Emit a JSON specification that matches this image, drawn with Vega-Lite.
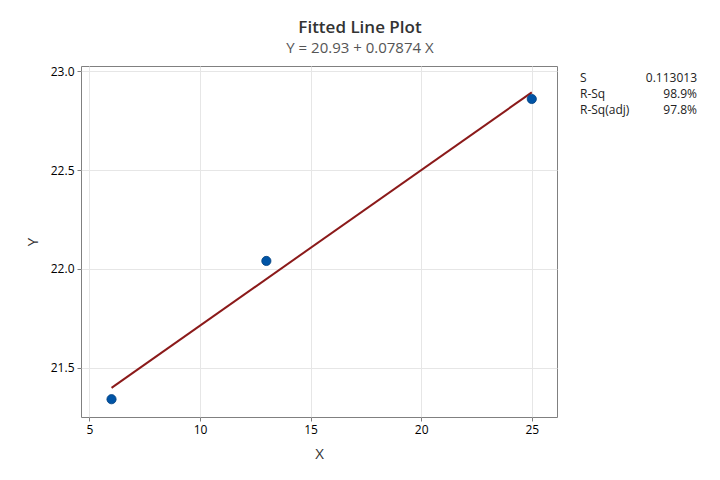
{
  "$schema": "https://vega.github.io/schema/vega-lite/v6.json",
  "autosize": "none",
  "padding": {"left": 81, "top": 66, "right": 163, "bottom": 63},
  "width": 476,
  "height": 351,
  "background": "white",
  "title": {
    "text": "Fitted Line Plot",
    "subtitle": "Y = 20.93 + 0.07874 X",
    "font": "Open Sans",
    "fontSize": 17,
    "fontWeight": 600,
    "color": "#333333",
    "subtitleFont": "Open Sans",
    "subtitleFontSize": 15,
    "subtitleColor": "#555555",
    "subtitlePadding": 4,
    "anchor": "middle",
    "dx": 41,
    "offset": 8
  },
  "config": {
    "view": {"stroke": "#808080", "strokeWidth": 1},
    "axis": {
      "labelFont": "Open Sans",
      "titleFont": "Open Sans",
      "labelFontSize": 12,
      "labelColor": "#000000",
      "titleFontSize": 15,
      "titleFontWeight": "normal",
      "titleColor": "#333333",
      "gridColor": "#e6e6e6",
      "domain": false,
      "tickColor": "#808080",
      "tickSize": 4
    }
  },
  "datasets": {
    "points": [
      {"X": 6, "Y": 21.34},
      {"X": 13, "Y": 22.04},
      {"X": 25, "Y": 22.86}
    ],
    "stats": [
      {"stat": "S", "value": "0.113013", "order": 1},
      {"stat": "R-Sq", "value": "98.9%", "order": 2},
      {"stat": "R-Sq(adj)", "value": "97.8%", "order": 3}
    ]
  },
  "layer": [
    {
      "data": {"name": "points"},
      "encoding": {
        "x": {
          "field": "X",
          "type": "quantitative",
          "scale": {"domain": [4.62, 26.14], "nice": false, "zero": false},
          "axis": {"values": [5, 10, 15, 20, 25], "title": "X", "titlePadding": 11, "labelPadding": 3}
        },
        "y": {
          "field": "Y",
          "type": "quantitative",
          "scale": {"domain": [21.25, 23.027], "nice": false, "zero": false},
          "axis": {"values": [21.5, 22.0, 22.5, 23.0], "format": ".1f", "title": "Y", "titlePadding": 10, "labelPadding": 3}
        }
      },
      "layer": [
        {
          "transform": [{"regression": "Y", "on": "X", "method": "linear"}],
          "mark": {"type": "line", "color": "#8b1a1a", "strokeWidth": 2}
        },
        {
          "mark": {"type": "circle", "size": 85, "color": "#0054a6", "opacity": 1, "stroke": "#003f7d", "strokeWidth": 0.8}
        }
      ]
    },
    {
      "data": {"name": "stats"},
      "encoding": {
        "y": {
          "field": "stat",
          "type": "ordinal",
          "sort": {"field": "order"},
          "scale": {"type": "point", "range": [12, 44], "padding": 0},
          "axis": null
        }
      },
      "layer": [
        {
          "mark": {"type": "text", "align": "left", "baseline": "middle", "font": "Open Sans", "fontSize": 12, "color": "#222222"},
          "encoding": {"text": {"field": "stat"}, "x": {"value": 499}}
        },
        {
          "mark": {"type": "text", "align": "right", "baseline": "middle", "font": "Open Sans", "fontSize": 12, "color": "#222222"},
          "encoding": {"text": {"field": "value"}, "x": {"value": 616}}
        }
      ]
    }
  ],
  "resolve": {"scale": {"y": "independent"}}
}
